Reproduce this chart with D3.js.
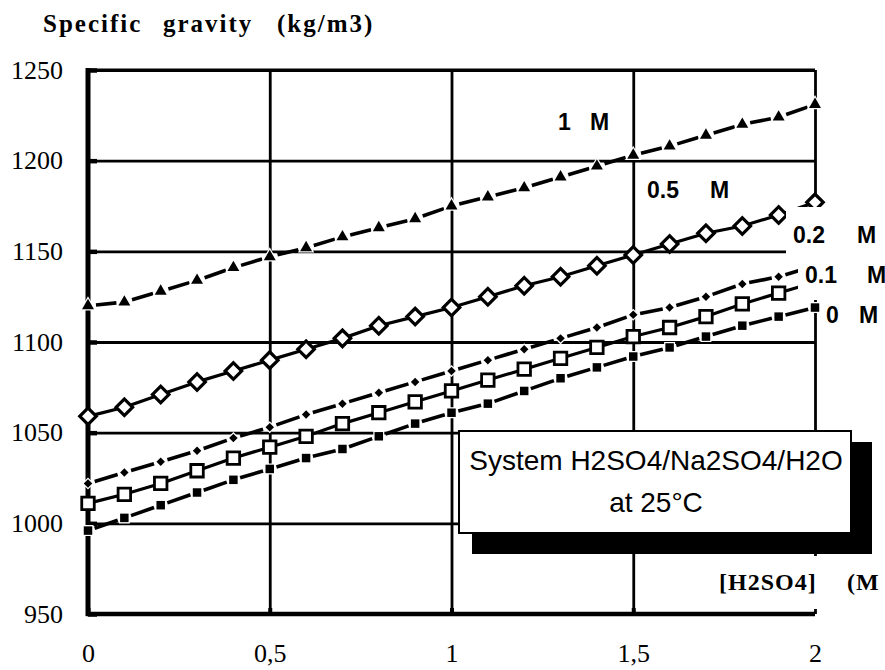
<!DOCTYPE html>
<html><head><meta charset="utf-8">
<script src="https://cdn.jsdelivr.net/npm/d3@7/dist/d3.min.js"></script>
<style>body{margin:0;background:#fff}svg{display:block}</style>
</head><body>
<svg id="chart" width="885" height="670"></svg>
<script>
// ---------- data ----------
const xValues = [0,0.1,0.2,0.3,0.4,0.5,0.6,0.7,0.8,0.9,1,1.1,1.2,1.3,1.4,1.5,1.6,1.7,1.8,1.9,2];
const rho1M  = [1120,1122,1128,1134,1141,1147,1152,1158,1163,1168,1175,1180,1185,1191,1197,1203,1208,1214,1220,1224,1231];
const rho05M = [1059,1064,1071,1078,1084,1090,1096,1102,1109,1114,1119,1125,1131,1136,1142,1148,1154,1160,1164,1170,1177];
const rho02M = [1022,1028,1034,1040,1047,1053,1060,1066,1072,1078,1084,1090,1096,1102,1108,1115,1119,1125,1132,1136,1142];
const rho01M = [1011,1016,1022,1029,1036,1042,1048,1055,1061,1067,1073,1079,1085,1091,1097,1103,1108,1114,1121,1127,1133];
const rho0M  = [996,1003,1010,1017,1024,1030,1036,1041,1048,1055,1061,1066,1073,1080,1086,1092,1097,1103,1109,1114,1119];
const seriesLabels = ["1","0.5","0.2","0.1","0"];
const unitLabel = "M";
const xTickValues = [0,0.5,1,1.5,2];
const xTickLabels = ["0","0,5","1","1,5","2"];
const yTickValues = [950,1000,1050,1100,1150,1200,1250];
const yTitleWords = ["Specific","gravity","(kg/m3)"];
const xTitleWords = ["[H2SO4]","(M"];
const noteLines = ["System H2SO4/Na2SO4/H2O","at 25°C"];

// ---------- layout / style ----------
const svg = d3.select("#chart");
const x = d3.scaleLinear().domain([0,2]).range([88,815]);
const y = d3.scaleLinear().domain([950,1250]).range([614,70]);
const serif = "'Liberation Serif','Times New Roman',serif";
const sans = "'Liberation Sans',Arial,Helvetica,sans-serif";

const seriesDefs = [
  {values: rho1M,  marker: "triangle",     dashed: true,  gap: 8},
  {values: rho05M, marker: "diamondOpen",  dashed: false},
  {values: rho02M, marker: "diamondSmall", dashed: true,  gap: 7},
  {values: rho01M, marker: "squareOpen",   dashed: false},
  {values: rho0M,  marker: "squareFilled", dashed: true,  gap: 7}
];

// grid lines
const grid = svg.append("g");
grid.append("g").attr("transform", `translate(${x(0)},0)`)
  .call(d3.axisLeft(y).tickValues(yTickValues.slice(1)).tickSize(-(x(2)-x(0))).tickFormat(""))
  .call(g => g.select(".domain").remove())
  .call(g => g.selectAll("line").attr("stroke","#000").attr("stroke-width",2.8));
grid.append("g").attr("transform", `translate(0,${y(950)})`)
  .call(d3.axisBottom(x).tickValues(xTickValues.slice(1)).tickSize(-(y(950)-y(1250))).tickFormat(""))
  .call(g => g.select(".domain").remove())
  .call(g => g.selectAll("line").attr("stroke","#000").attr("stroke-width",2.8));
grid.append("line").attr("x1",x(0)).attr("x2",x(2)).attr("y1",y(1250)).attr("y2",y(1250))
  .attr("stroke","#000").attr("stroke-width",3.2);

// inner tick stubs
svg.append("g").attr("transform", `translate(${x(0)},0)`)
  .call(d3.axisRight(y).tickValues(yTickValues).tickSize(9).tickFormat(""))
  .call(g => g.select(".domain").remove())
  .call(g => g.selectAll("line").attr("stroke","#000").attr("stroke-width",4.5));
svg.append("g").attr("transform", `translate(0,${y(950)})`)
  .call(d3.axisTop(x).tickValues(xTickValues.slice(0,4)).tickSize(6).tickFormat(""))
  .call(g => g.select(".domain").remove())
  .call(g => g.selectAll("line").attr("stroke","#000").attr("stroke-width",4));

// axes main lines
svg.append("line").attr("x1",x(0)).attr("x2",x(0)).attr("y1",y(1250)-2).attr("y2",y(950)+2)
  .attr("stroke","#000").attr("stroke-width",5);
svg.append("line").attr("x1",x(0)-2).attr("x2",x(2)).attr("y1",y(950)).attr("y2",y(950))
  .attr("stroke","#000").attr("stroke-width",4.5);

// tick labels
const yAx = svg.append("g").attr("transform", `translate(${x(0)},0)`)
  .call(d3.axisLeft(y).tickValues(yTickValues).tickSize(0).tickPadding(25).tickFormat(d3.format("d")));
yAx.select(".domain").remove();
yAx.selectAll("text").attr("font-family", serif).attr("font-size", 26).attr("fill","#000");
const xAx = svg.append("g").attr("transform", `translate(0,${y(950)})`)
  .call(d3.axisBottom(x).tickValues(xTickValues).tickSize(0).tickPadding(30)
    .tickFormat((d,i) => xTickLabels[i]));
xAx.select(".domain").remove();
xAx.selectAll("text").attr("font-family", serif).attr("font-size", 26).attr("fill","#000");

// series lines
const lineGen = d3.line().x(d => x(d[0])).y(d => y(d[1]));
const linesG = svg.append("g");
seriesDefs.forEach(s => {
  const pts = xValues.map((xv,i) => [xv, s.values[i]]);
  if (!s.dashed) {
    linesG.append("path").attr("d", lineGen(pts)).attr("fill","none")
      .attr("stroke","#000").attr("stroke-width",3.2).attr("stroke-linejoin","round");
  } else {
    d3.pairs(pts).forEach(([a,b]) => {
      const ax = x(a[0]), ay = y(a[1]), bx = x(b[0]), by = y(b[1]);
      const L = Math.hypot(bx-ax, by-ay), ux = (bx-ax)/L, uy = (by-ay)/L;
      linesG.append("line")
        .attr("x1", ax+ux*s.gap).attr("y1", ay+uy*s.gap)
        .attr("x2", bx-ux*s.gap).attr("y2", by-uy*s.gap)
        .attr("stroke","#000").attr("stroke-width",3.6);
    });
  }
});

// markers
const markerStyle = {
  triangle:     {path: d3.symbol(d3.symbolTriangle, 62)(), rot: 0,  fill:"#000", stroke:"#fff", sw:2.5, halo:true},
  diamondOpen:  {path: d3.symbol(d3.symbolSquare, 136)(), rot: 45, fill:"#fff", stroke:"#000", sw:3.2},
  diamondSmall: {path: d3.symbol(d3.symbolSquare, 36)(),  rot: 45, fill:"#000", stroke:"#fff", sw:2.5, halo:true},
  squareOpen:   {path: d3.symbol(d3.symbolSquare, 156)(), rot: 0,  fill:"#fff", stroke:"#000", sw:2.8},
  squareFilled: {path: d3.symbol(d3.symbolSquare, 72)(),  rot: 0,  fill:"#000", stroke:"#fff", sw:2.5, halo:true}
};
seriesDefs.forEach(s => {
  const m = markerStyle[s.marker];
  svg.append("g").selectAll("path").data(xValues.map((xv,i)=>[xv, s.values[i]])).join("path")
    .attr("d", m.path)
    .attr("transform", d => `translate(${x(d[0])},${y(d[1])}) rotate(${m.rot})`)
    .attr("fill", m.fill).attr("stroke", m.stroke).attr("stroke-width", m.sw)
    .style("paint-order", m.halo ? "stroke" : "normal");
});

// series labels
const labelLayout = [
  {nx:558, mx:590, y:130},
  {nx:647, mx:710, y:198},
  {nx:793, mx:857, y:243, bg:[786,207,99,51]},
  {nx:805, mx:867, y:283, bg:[798,258,87,42]},
  {nx:826, mx:859, y:323, bg:[822,300,63,32]}
];
labelLayout.forEach(L => {
  if (L.bg) svg.append("rect").attr("x",L.bg[0]).attr("y",L.bg[1]).attr("width",L.bg[2]).attr("height",L.bg[3]).attr("fill","#fff");
});
labelLayout.forEach((L,i) => {
  const t = svg.append("text").attr("font-family", sans).attr("font-weight","bold")
    .attr("font-size", 23).attr("fill","#000");
  t.append("tspan").attr("x", L.nx).attr("y", L.y).text(seriesLabels[i]);
  t.append("tspan").attr("x", L.mx).attr("y", L.y).text(unitLabel);
});

// note box with shadow
svg.append("rect").attr("x",472).attr("y",442).attr("width",400).attr("height",112).attr("fill","#000");
svg.append("rect").attr("x",459).attr("y",431).attr("width",392).attr("height",102)
  .attr("fill","#fff").attr("stroke","#000").attr("stroke-width",2);
noteLines.forEach((ln,i) => {
  svg.append("text").attr("x",656).attr("y", 470 + i*42).attr("text-anchor","middle")
    .attr("font-family", sans).attr("font-size", 28).attr("fill","#000").text(ln);
});

// x axis title
svg.append("rect").attr("x",715).attr("y",556).attr("width",170).attr("height",53).attr("fill","#fff");
const xt = svg.append("text").attr("font-family", serif).attr("font-weight","bold")
  .attr("font-size", 24).attr("letter-spacing", 1).attr("fill","#000");
xt.append("tspan").attr("x",719).attr("y",590).text(xTitleWords[0]);
xt.append("tspan").attr("x",847).attr("y",590).text(xTitleWords[1]);

// y axis title
const yt = svg.append("text").attr("font-family", serif).attr("font-weight","bold")
  .attr("font-size", 25).attr("letter-spacing", 2).attr("fill","#000");
[43,163,277].forEach((px,i) => yt.append("tspan").attr("x",px).attr("y",32).text(yTitleWords[i]));
</script>
</body></html>
